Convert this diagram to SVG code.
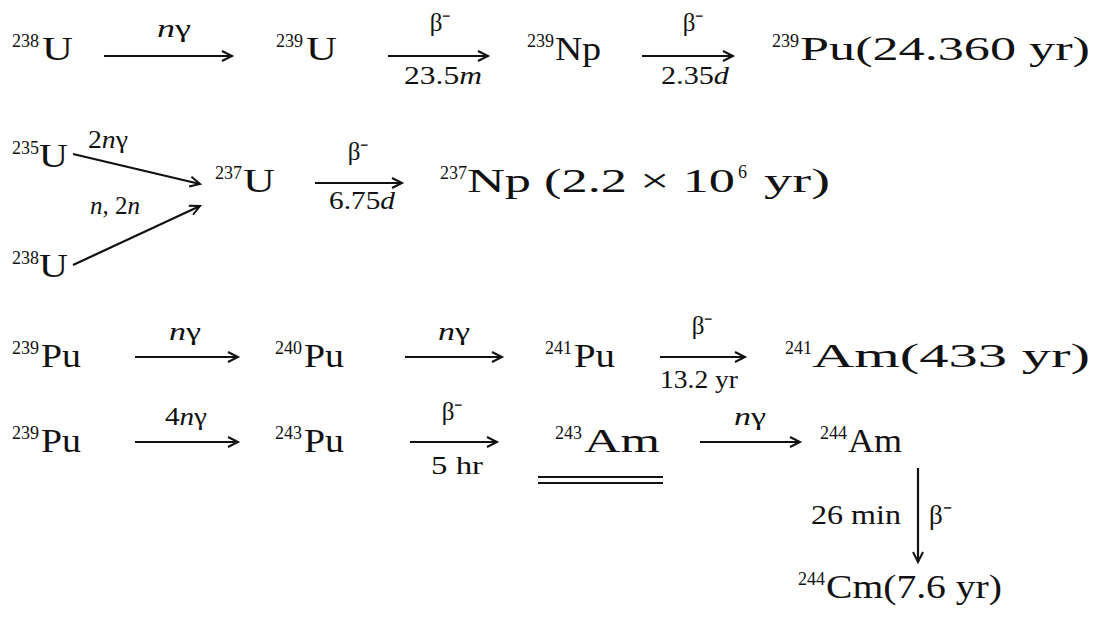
<svg xmlns="http://www.w3.org/2000/svg" width="1100" height="617" viewBox="0 0 1100 617">
<style>
text{font-family:"Liberation Serif","Times New Roman",serif;fill:#111}
.m{font-family:"Liberation Serif","Times New Roman",serif;font-size:34px}
.s{font-family:"Liberation Serif","Times New Roman",serif;font-size:18px}
.l{font-family:"Liberation Serif","Times New Roman",serif;font-size:25px}
.i{font-style:italic}
.c line{stroke:#111;stroke-width:2.2;fill:none}
.c .a{marker-end:url(#ah)}
.u{stroke:#111;stroke-width:2}
</style>
<defs>
<marker id="ah" markerUnits="userSpaceOnUse" markerWidth="14" markerHeight="12" refX="11" refY="6" orient="auto">
<path d="M1,1 L11,6 L1,11" fill="none" stroke="#111" stroke-width="2"/>
</marker>
</defs>
<rect width="1100" height="617" fill="#fff"/>

<g id="connectors" class="c">
<line class="a" x1="104" y1="56" x2="232" y2="56"/>
<line class="a" x1="388" y1="56" x2="488" y2="56"/>
<line class="a" x1="642" y1="56" x2="733" y2="56"/>
<line class="a" x1="73" y1="154" x2="200" y2="184"/>
<line class="a" x1="73" y1="265" x2="200" y2="206"/>
<line class="a" x1="315" y1="183" x2="402" y2="183"/>
<line class="a" x1="135" y1="357" x2="238" y2="357"/>
<line class="a" x1="405" y1="357" x2="502" y2="357"/>
<line class="a" x1="660" y1="357" x2="745" y2="357"/>
<line class="a" x1="135" y1="442" x2="238" y2="442"/>
<line class="a" x1="410" y1="442" x2="497" y2="442"/>
<line class="a" x1="700" y1="442" x2="800" y2="442"/>
<line class="a" x1="918" y1="468" x2="918" y2="562"/>
</g>

<g id="labels">
<text class="l" x="157" y="37" textLength="34" lengthAdjust="spacingAndGlyphs"><tspan class="i">n</tspan>γ</text>
<text class="l" x="440" y="31" text-anchor="middle">β⁻</text>
<text class="l" x="404" y="84" textLength="78" lengthAdjust="spacingAndGlyphs">23.5<tspan class="i">m</tspan></text>
<text class="l" x="693" y="31" text-anchor="middle">β⁻</text>
<text class="l" x="661" y="84" textLength="68" lengthAdjust="spacingAndGlyphs">2.35<tspan class="i">d</tspan></text>
<text class="l" x="88" y="148" textLength="40" lengthAdjust="spacingAndGlyphs">2<tspan class="i">n</tspan>γ</text>
<text class="l" x="90" y="214"><tspan class="i">n</tspan>, 2<tspan class="i">n</tspan></text>
<text class="l" x="358" y="160" text-anchor="middle">β⁻</text>
<text class="l" x="329" y="209" textLength="66" lengthAdjust="spacingAndGlyphs">6.75<tspan class="i">d</tspan></text>
<text class="l" x="169" y="340" textLength="32" lengthAdjust="spacingAndGlyphs"><tspan class="i">n</tspan>γ</text>
<text class="l" x="438" y="340" textLength="32" lengthAdjust="spacingAndGlyphs"><tspan class="i">n</tspan>γ</text>
<text class="l" x="702" y="334" text-anchor="middle">β⁻</text>
<text class="l" x="660" y="388" textLength="78" lengthAdjust="spacingAndGlyphs">13.2 yr</text>
<text class="l" x="165" y="425" textLength="42" lengthAdjust="spacingAndGlyphs">4<tspan class="i">n</tspan>γ</text>
<text class="l" x="452" y="420" text-anchor="middle">β⁻</text>
<text class="l" x="431" y="474" textLength="52" lengthAdjust="spacingAndGlyphs">5 hr</text>
<text class="l" x="734" y="425" textLength="32" lengthAdjust="spacingAndGlyphs"><tspan class="i">n</tspan>γ</text>
<text class="l" x="811" y="524" style="font-size:27px" textLength="90" lengthAdjust="spacingAndGlyphs">26 min</text>
<text class="l" x="929" y="524" style="font-size:27px">β⁻</text>
</g>

<g id="n238U"><text class="s" x="12" y="47">238</text><text class="m" x="42" y="60" textLength="31" lengthAdjust="spacingAndGlyphs">U</text></g>
<g id="n239U"><text class="s" x="276" y="47">239</text><text class="m" x="306" y="60" textLength="31" lengthAdjust="spacingAndGlyphs">U</text></g>
<g id="n239Np"><text class="s" x="527" y="47">239</text><text class="m" x="555" y="60" textLength="46" lengthAdjust="spacingAndGlyphs">Np</text></g>
<g id="n239Pu"><text class="s" x="772" y="47">239</text><text class="m" x="800" y="60" textLength="290" lengthAdjust="spacingAndGlyphs">Pu(24.360 yr)</text></g>

<g id="n235U"><text class="s" x="12" y="154">235</text><text class="m" x="39" y="167" textLength="29" lengthAdjust="spacingAndGlyphs">U</text></g>
<g id="n238U-b"><text class="s" x="12" y="264">238</text><text class="m" x="39" y="277" textLength="29" lengthAdjust="spacingAndGlyphs">U</text></g>
<g id="n237U"><text class="s" x="215" y="179">237</text><text class="m" x="243" y="192" textLength="32" lengthAdjust="spacingAndGlyphs">U</text></g>
<g id="n237Np"><text class="s" x="440" y="179">237</text><text class="m" x="467" y="192" textLength="268" lengthAdjust="spacingAndGlyphs">Np (2.2 × 10</text><text class="s" x="738" y="178">6</text><text class="m" x="764" y="192" textLength="66" lengthAdjust="spacingAndGlyphs">yr)</text></g>

<g id="n239Pu-a"><text class="s" x="12" y="354">239</text><text class="m" x="41" y="367" textLength="40" lengthAdjust="spacingAndGlyphs">Pu</text></g>
<g id="n240Pu"><text class="s" x="275" y="354">240</text><text class="m" x="304" y="367" textLength="40" lengthAdjust="spacingAndGlyphs">Pu</text></g>
<g id="n241Pu"><text class="s" x="545" y="354">241</text><text class="m" x="574" y="367" textLength="41" lengthAdjust="spacingAndGlyphs">Pu</text></g>
<g id="n241Am"><text class="s" x="785" y="354">241</text><text class="m" x="812" y="367" textLength="278" lengthAdjust="spacingAndGlyphs">Am(433 yr)</text></g>

<g id="n239Pu-b"><text class="s" x="12" y="439">239</text><text class="m" x="41" y="452" textLength="40" lengthAdjust="spacingAndGlyphs">Pu</text></g>
<g id="n243Pu"><text class="s" x="275" y="439">243</text><text class="m" x="304" y="452" textLength="40" lengthAdjust="spacingAndGlyphs">Pu</text></g>
<g id="n243Am"><text class="s" x="555" y="439">243</text><text class="m" x="584" y="452" textLength="76" lengthAdjust="spacingAndGlyphs">Am</text>
<line class="u" x1="538" y1="477" x2="663" y2="477"/>
<line class="u" x1="538" y1="483" x2="663" y2="483"/></g>
<g id="n244Am"><text class="s" x="820" y="439">244</text><text class="m" x="848" y="452" textLength="54" lengthAdjust="spacingAndGlyphs">Am</text></g>
<g id="n244Cm"><text class="s" x="798" y="585">244</text><text class="m" x="826" y="598" textLength="176" lengthAdjust="spacingAndGlyphs">Cm(7.6 yr)</text></g>
</svg>
